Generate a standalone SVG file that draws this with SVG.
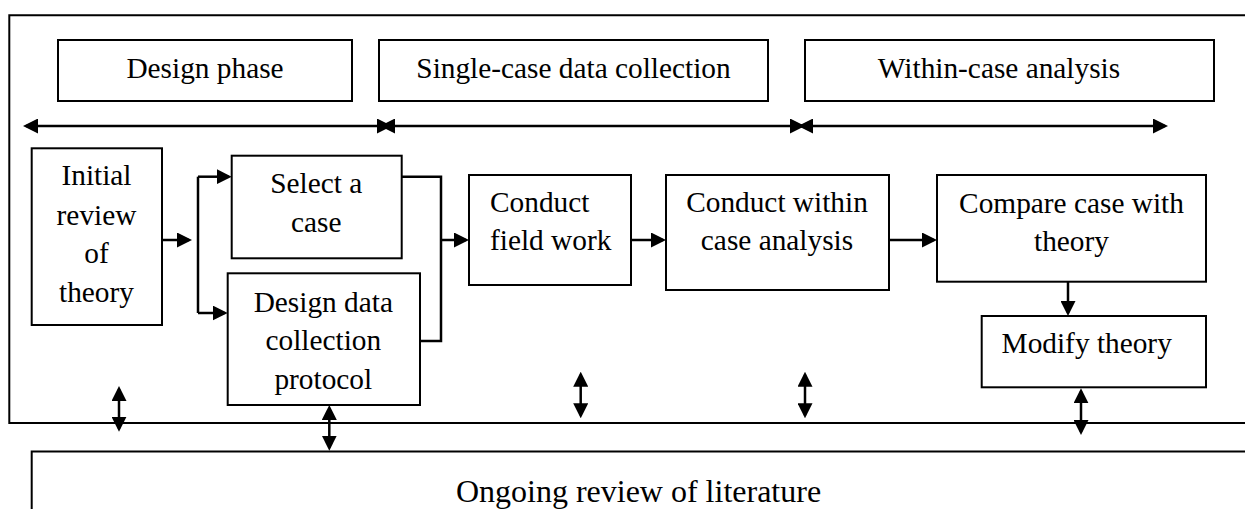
<svg xmlns="http://www.w3.org/2000/svg" width="1245" height="509" viewBox="0 0 1245 509">
<defs>
<marker id="ah" markerUnits="userSpaceOnUse" viewBox="0 0 15 15" refX="12" refY="7.5" markerWidth="15" markerHeight="15" orient="auto-start-reverse">
<path d="M0,0 L15,7.5 L0,15 z" fill="#000"/>
</marker>
<style>
.box{fill:#fff;stroke:#000;stroke-width:2}
.frame{fill:none;stroke:#000;stroke-width:2}
.t{font-family:"Liberation Serif","Times New Roman",serif;font-size:29.33px;fill:#000;text-anchor:middle}
.tl{text-anchor:start}
.big{font-size:32px}
.c{fill:none;stroke:#000;stroke-width:2.5}
.a1{marker-end:url(#ah)}
.a2{marker-start:url(#ah);marker-end:url(#ah)}
</style>
</defs>
<rect width="1245" height="509" fill="#fff"/>
<g id="frame">
<path class="frame" d="M1245 15.3 H9.3 V423 H1245"/>
</g>
<g id="literature">
<path class="frame" d="M1245 451.5 H31.7 V509"/>
<text class="t big" x="638.5" y="501.5">Ongoing review of literature</text>
</g>
<g id="phase-design">
<rect class="box" x="58" y="40" width="294" height="61"/>
<text class="t" x="205" y="78.3">Design phase</text>
</g>
<g id="phase-collection">
<rect class="box" x="379" y="40" width="389" height="61"/>
<text class="t" x="573.5" y="78.3">Single-case data collection</text>
</g>
<g id="phase-analysis">
<rect class="box" x="805" y="40" width="409" height="61"/>
<text class="t" x="999" y="78.3">Within-case analysis</text>
</g>
<g id="initial-review">
<rect class="box" x="31.7" y="148.3" width="130.3" height="176.7"/>
<text class="t" x="96.5" y="185">Initial</text>
<text class="t" x="96.5" y="224.5">review</text>
<text class="t" x="96.5" y="263">of</text>
<text class="t" x="96.5" y="301.7">theory</text>
</g>
<g id="select-case">
<rect class="box" x="231.7" y="155.7" width="170" height="102.6"/>
<text class="t" x="316.3" y="193.3">Select a</text>
<text class="t" x="316.3" y="231.7">case</text>
</g>
<g id="design-protocol">
<rect class="box" x="227.7" y="273.3" width="192.3" height="131.7"/>
<text class="t" x="323.3" y="311.5">Design data</text>
<text class="t" x="323.3" y="350.3">collection</text>
<text class="t" x="323.3" y="389">protocol</text>
</g>
<g id="field-work">
<rect class="box" x="469" y="175" width="162" height="110"/>
<text class="t tl" x="490" y="211.7">Conduct</text>
<text class="t tl" x="490" y="250">field work</text>
</g>
<g id="within-case">
<rect class="box" x="666" y="175" width="223" height="115"/>
<text class="t" x="777" y="211.7">Conduct within</text>
<text class="t" x="777" y="250">case analysis</text>
</g>
<g id="compare">
<rect class="box" x="937" y="175" width="269" height="106.7"/>
<text class="t" x="1071.5" y="212.7">Compare case with</text>
<text class="t" x="1071.5" y="250.5">theory</text>
</g>
<g id="modify">
<rect class="box" x="981.7" y="316" width="224.3" height="71.3"/>
<text class="t" x="1086.7" y="353.3">Modify theory</text>
</g>
<g id="connectors">
<path class="c a2" d="M26 126 H389"/>
<path class="c a2" d="M383 126 H802"/>
<path class="c a2" d="M801 126 H1165"/>
<path class="c a1" d="M162 240 H189"/>
<path class="c" d="M198 176.7 V313"/>
<path class="c a1" d="M198 176.7 H228.7"/>
<path class="c a1" d="M198 313 H224.7"/>
<path class="c" d="M401.7 176.7 H441 V341 H420"/>
<path class="c a1" d="M441 240 H466"/>
<path class="c a1" d="M631 240 H663"/>
<path class="c a1" d="M889 240 H934"/>
<path class="c a1" d="M1068 281.7 V313"/>
<path class="c a2" d="M119 389 V428.7"/>
<path class="c a2" d="M329.3 408 V447.7"/>
<path class="c a2" d="M580.7 374.7 V415.3"/>
<path class="c a2" d="M805 374.7 V415.3"/>
<path class="c a2" d="M1081 391.3 V432"/>
</g>
</svg>
